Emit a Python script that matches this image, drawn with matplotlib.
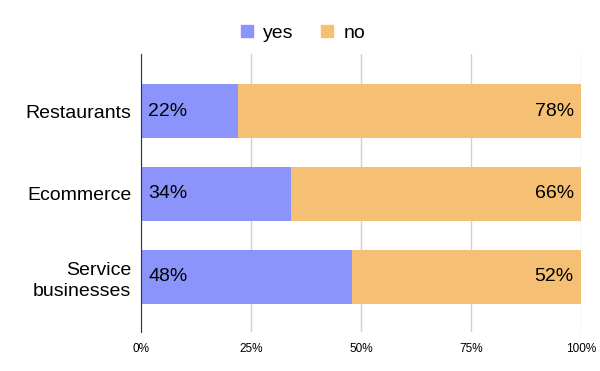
import numpy as np
import matplotlib.pyplot as plt
from matplotlib.patches import Patch

plt.rcParams['font.family'] = ['Liberation Sans', 'DejaVu Sans']

categories = ["Restaurants", "Ecommerce", "Service\nbusinesses"]
yes_vals = [22, 34, 48]
no_vals = [78, 66, 52]
ticks = [0, 25, 50, 75, 100]
tick_labels = ["0%", "25%", "50%", "75%", "100%"]

c_yes = "#8A94FB"
c_no = "#F5C073"

fig = plt.figure(figsize=(6, 3.71), dpi=100)
ax = fig.add_axes([0.235, 0.105, 0.733, 0.749])

y = np.arange(len(categories))
ax.barh(y, yes_vals, height=0.65, color=c_yes, zorder=3)
ax.barh(y, no_vals, left=yes_vals, height=0.65, color=c_no, zorder=3)

for i, (a, b) in enumerate(zip(yes_vals, no_vals)):
    ax.text(1.6, i, f"{a}%", ha="left", va="center", fontsize=14, color="#000000", zorder=4)
    ax.text(98.4, i, f"{b}%", ha="right", va="center", fontsize=14, color="#000000", zorder=4)

ax.set_xlim(0, 100)
ax.set_ylim(2.67, -0.69)
ax.set_yticks(y)
ax.set_yticklabels(categories, fontsize=14, linespacing=1.35)
ax.set_xticks(ticks)
ax.set_xticklabels(tick_labels, fontsize=8.5)
ax.tick_params(axis="y", length=0, pad=7)
ax.tick_params(axis="x", length=0, pad=8)
ax.xaxis.grid(True, color="#d0d0d0", lw=1, zorder=0)
for s in ["top", "right", "bottom"]:
    ax.spines[s].set_visible(False)
ax.spines["left"].set_color("#333333")
ax.spines["left"].set_zorder(5)

handles = [Patch(color=c_yes, label="yes"), Patch(color=c_no, label="no")]
fig.legend(handles=handles, loc="center", bbox_to_anchor=(0.505, 0.91), ncol=2,
           frameon=False, fontsize=14, handlelength=0.6, handleheight=0.6,
           handletextpad=0.55, columnspacing=1.4)

fig.savefig("out.png", dpi=100)
